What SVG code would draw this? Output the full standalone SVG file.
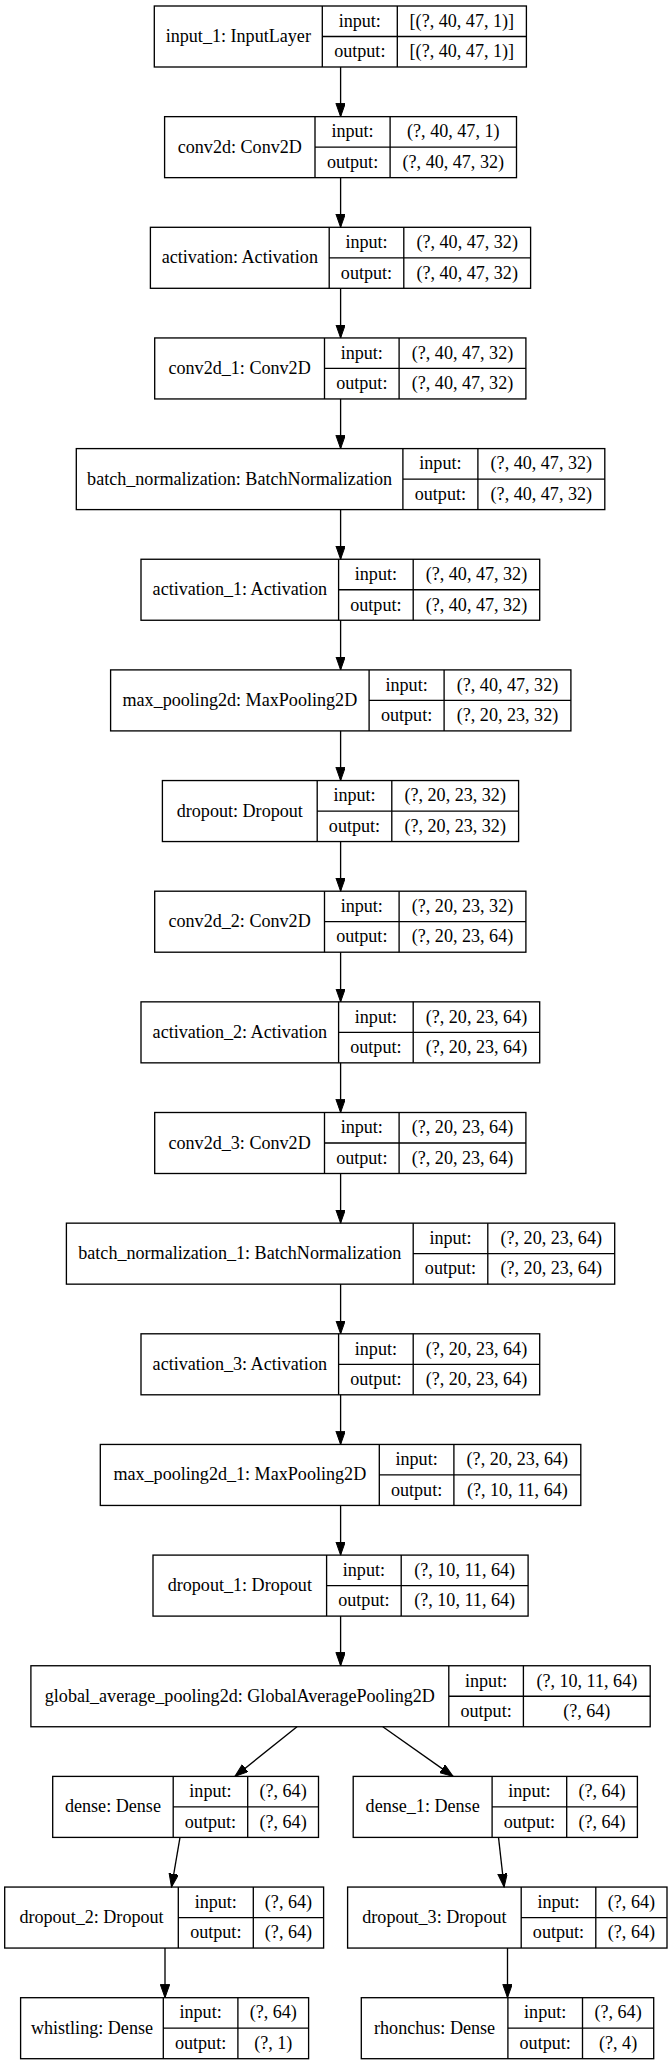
<svg xmlns="http://www.w3.org/2000/svg" width="672" height="2065" viewBox="0 0 672 2065">
<style>
.b{fill:none;stroke:#000;stroke-width:1.33}
.t{font-family:"Liberation Serif","Times New Roman",serif;font-size:18.1px;fill:#000;text-anchor:middle}
.e{fill:none;stroke:#000;stroke-width:1.33}
</style>
<defs>
<marker id="ah" markerUnits="userSpaceOnUse" markerWidth="14" markerHeight="10" refX="13.3" refY="4.7" orient="auto" viewBox="0 0 14 10">
<path d="M0,0 L13.3,4.7 L0,9.4 z" fill="#000" stroke="#000" stroke-width="1"/>
</marker>
</defs>
<rect x="0" y="0" width="672" height="2065" fill="#fff"/>

<g id="input_1">
<rect class="b" x="154.3" y="6" width="372.1" height="61"/>
<path class="b" d="M322.3,6V67M397.3,6V67M322.3,36.5H526.4"/>
<text class="t" x="238.3" y="42">input_1: InputLayer</text>
<text class="t" x="359.8" y="26.75">input:</text>
<text class="t" x="359.8" y="57.25">output:</text>
<text class="t" x="461.85" y="26.75">[(?, 40, 47, 1)]</text>
<text class="t" x="461.85" y="57.25">[(?, 40, 47, 1)]</text>
</g>

<g id="conv2d">
<rect class="b" x="164.6" y="116.65" width="351.9" height="61"/>
<path class="b" d="M315,116.65V177.65M390.1,116.65V177.65M315,147.15H516.5"/>
<text class="t" x="239.8" y="152.65">conv2d: Conv2D</text>
<text class="t" x="352.55" y="137.4">input:</text>
<text class="t" x="352.55" y="167.9">output:</text>
<text class="t" x="453.3" y="137.4">(?, 40, 47, 1)</text>
<text class="t" x="453.3" y="167.9">(?, 40, 47, 32)</text>
</g>

<g id="activation">
<rect class="b" x="150.4" y="227.3" width="380.2" height="61"/>
<path class="b" d="M329.2,227.3V288.3M403.8,227.3V288.3M329.2,257.8H530.6"/>
<text class="t" x="239.8" y="263.3">activation: Activation</text>
<text class="t" x="366.5" y="248.05">input:</text>
<text class="t" x="366.5" y="278.55">output:</text>
<text class="t" x="467.2" y="248.05">(?, 40, 47, 32)</text>
<text class="t" x="467.2" y="278.55">(?, 40, 47, 32)</text>
</g>

<g id="conv2d_1">
<rect class="b" x="154.7" y="337.95" width="371.2" height="61"/>
<path class="b" d="M324.5,337.95V398.95M399.1,337.95V398.95M324.5,368.45H525.9"/>
<text class="t" x="239.6" y="373.95">conv2d_1: Conv2D</text>
<text class="t" x="361.8" y="358.7">input:</text>
<text class="t" x="361.8" y="389.2">output:</text>
<text class="t" x="462.5" y="358.7">(?, 40, 47, 32)</text>
<text class="t" x="462.5" y="389.2">(?, 40, 47, 32)</text>
</g>

<g id="batch_normalization">
<rect class="b" x="76.3" y="448.6" width="528.5" height="61"/>
<path class="b" d="M402.9,448.6V509.6M477.9,448.6V509.6M402.9,479.1H604.8"/>
<text class="t" x="239.6" y="484.6">batch_normalization: BatchNormalization</text>
<text class="t" x="440.4" y="469.35">input:</text>
<text class="t" x="440.4" y="499.85">output:</text>
<text class="t" x="541.35" y="469.35">(?, 40, 47, 32)</text>
<text class="t" x="541.35" y="499.85">(?, 40, 47, 32)</text>
</g>

<g id="activation_1">
<rect class="b" x="141" y="559.25" width="398.7" height="61"/>
<path class="b" d="M338.6,559.25V620.25M413.2,559.25V620.25M338.6,589.75H539.7"/>
<text class="t" x="239.8" y="595.25">activation_1: Activation</text>
<text class="t" x="375.9" y="580">input:</text>
<text class="t" x="375.9" y="610.5">output:</text>
<text class="t" x="476.45" y="580">(?, 40, 47, 32)</text>
<text class="t" x="476.45" y="610.5">(?, 40, 47, 32)</text>
</g>

<g id="max_pooling2d">
<rect class="b" x="110.6" y="669.9" width="460.3" height="61"/>
<path class="b" d="M369.1,669.9V730.9M444.1,669.9V730.9M369.1,700.4H570.9"/>
<text class="t" x="239.85" y="705.9">max_pooling2d: MaxPooling2D</text>
<text class="t" x="406.6" y="690.65">input:</text>
<text class="t" x="406.6" y="721.15">output:</text>
<text class="t" x="507.5" y="690.65">(?, 40, 47, 32)</text>
<text class="t" x="507.5" y="721.15">(?, 20, 23, 32)</text>
</g>

<g id="dropout">
<rect class="b" x="162.4" y="780.55" width="356.2" height="61"/>
<path class="b" d="M317.2,780.55V841.55M391.8,780.55V841.55M317.2,811.05H518.6"/>
<text class="t" x="239.8" y="816.55">dropout: Dropout</text>
<text class="t" x="354.5" y="801.3">input:</text>
<text class="t" x="354.5" y="831.8">output:</text>
<text class="t" x="455.2" y="801.3">(?, 20, 23, 32)</text>
<text class="t" x="455.2" y="831.8">(?, 20, 23, 32)</text>
</g>

<g id="conv2d_2">
<rect class="b" x="154.7" y="891.2" width="371.2" height="61"/>
<path class="b" d="M324.5,891.2V952.2M399.1,891.2V952.2M324.5,921.7H525.9"/>
<text class="t" x="239.6" y="927.2">conv2d_2: Conv2D</text>
<text class="t" x="361.8" y="911.95">input:</text>
<text class="t" x="361.8" y="942.45">output:</text>
<text class="t" x="462.5" y="911.95">(?, 20, 23, 32)</text>
<text class="t" x="462.5" y="942.45">(?, 20, 23, 64)</text>
</g>

<g id="activation_2">
<rect class="b" x="141" y="1001.85" width="398.7" height="61"/>
<path class="b" d="M338.6,1001.85V1062.85M413.2,1001.85V1062.85M338.6,1032.35H539.7"/>
<text class="t" x="239.8" y="1037.85">activation_2: Activation</text>
<text class="t" x="375.9" y="1022.6">input:</text>
<text class="t" x="375.9" y="1053.1">output:</text>
<text class="t" x="476.45" y="1022.6">(?, 20, 23, 64)</text>
<text class="t" x="476.45" y="1053.1">(?, 20, 23, 64)</text>
</g>

<g id="conv2d_3">
<rect class="b" x="154.7" y="1112.5" width="371.2" height="61"/>
<path class="b" d="M324.5,1112.5V1173.5M399.1,1112.5V1173.5M324.5,1143H525.9"/>
<text class="t" x="239.6" y="1148.5">conv2d_3: Conv2D</text>
<text class="t" x="361.8" y="1133.25">input:</text>
<text class="t" x="361.8" y="1163.75">output:</text>
<text class="t" x="462.5" y="1133.25">(?, 20, 23, 64)</text>
<text class="t" x="462.5" y="1163.75">(?, 20, 23, 64)</text>
</g>

<g id="batch_normalization_1">
<rect class="b" x="66.4" y="1223.15" width="548.3" height="61"/>
<path class="b" d="M413.2,1223.15V1284.15M487.8,1223.15V1284.15M413.2,1253.65H614.7"/>
<text class="t" x="239.8" y="1259.15">batch_normalization_1: BatchNormalization</text>
<text class="t" x="450.5" y="1243.9">input:</text>
<text class="t" x="450.5" y="1274.4">output:</text>
<text class="t" x="551.25" y="1243.9">(?, 20, 23, 64)</text>
<text class="t" x="551.25" y="1274.4">(?, 20, 23, 64)</text>
</g>

<g id="activation_3">
<rect class="b" x="141" y="1333.8" width="398.7" height="61"/>
<path class="b" d="M338.6,1333.8V1394.8M413.2,1333.8V1394.8M338.6,1364.3H539.7"/>
<text class="t" x="239.8" y="1369.8">activation_3: Activation</text>
<text class="t" x="375.9" y="1354.55">input:</text>
<text class="t" x="375.9" y="1385.05">output:</text>
<text class="t" x="476.45" y="1354.55">(?, 20, 23, 64)</text>
<text class="t" x="476.45" y="1385.05">(?, 20, 23, 64)</text>
</g>

<g id="max_pooling2d_1">
<rect class="b" x="100.3" y="1444.45" width="480.5" height="61"/>
<path class="b" d="M379.3,1444.45V1505.45M453.9,1444.45V1505.45M379.3,1474.95H580.8"/>
<text class="t" x="239.8" y="1480.45">max_pooling2d_1: MaxPooling2D</text>
<text class="t" x="416.6" y="1465.2">input:</text>
<text class="t" x="416.6" y="1495.7">output:</text>
<text class="t" x="517.35" y="1465.2">(?, 20, 23, 64)</text>
<text class="t" x="517.35" y="1495.7">(?, 10, 11, 64)</text>
</g>

<g id="dropout_1">
<rect class="b" x="153" y="1555.1" width="375.1" height="61"/>
<path class="b" d="M326.6,1555.1V1616.1M401.2,1555.1V1616.1M326.6,1585.6H528.1"/>
<text class="t" x="239.8" y="1591.1">dropout_1: Dropout</text>
<text class="t" x="363.9" y="1575.85">input:</text>
<text class="t" x="363.9" y="1606.35">output:</text>
<text class="t" x="464.65" y="1575.85">(?, 10, 11, 64)</text>
<text class="t" x="464.65" y="1606.35">(?, 10, 11, 64)</text>
</g>

<g id="global_average_pooling2d">
<rect class="b" x="30.9" y="1665.75" width="619.3" height="61"/>
<path class="b" d="M448.8,1665.75V1726.75M523.4,1665.75V1726.75M448.8,1696.25H650.2"/>
<text class="t" x="239.85" y="1701.75">global_average_pooling2d: GlobalAveragePooling2D</text>
<text class="t" x="486.1" y="1686.5">input:</text>
<text class="t" x="486.1" y="1717">output:</text>
<text class="t" x="586.8" y="1686.5">(?, 10, 11, 64)</text>
<text class="t" x="586.8" y="1717">(?, 64)</text>
</g>

<g id="dense">
<rect class="b" x="52.7" y="1776.4" width="265.8" height="61"/>
<path class="b" d="M173.2,1776.4V1837.4M247.7,1776.4V1837.4M173.2,1806.9H318.5"/>
<text class="t" x="112.95" y="1812.4">dense: Dense</text>
<text class="t" x="210.45" y="1797.15">input:</text>
<text class="t" x="210.45" y="1827.65">output:</text>
<text class="t" x="283.1" y="1797.15">(?, 64)</text>
<text class="t" x="283.1" y="1827.65">(?, 64)</text>
</g>

<g id="dense_1">
<rect class="b" x="353.2" y="1776.4" width="284.2" height="61"/>
<path class="b" d="M492.1,1776.4V1837.4M566.7,1776.4V1837.4M492.1,1806.9H637.4"/>
<text class="t" x="422.65" y="1812.4">dense_1: Dense</text>
<text class="t" x="529.4" y="1797.15">input:</text>
<text class="t" x="529.4" y="1827.65">output:</text>
<text class="t" x="602.05" y="1797.15">(?, 64)</text>
<text class="t" x="602.05" y="1827.65">(?, 64)</text>
</g>

<g id="dropout_2">
<rect class="b" x="4.7" y="1887.05" width="318.9" height="61"/>
<path class="b" d="M178.3,1887.05V1948.05M253.3,1887.05V1948.05M178.3,1917.55H323.6"/>
<text class="t" x="91.5" y="1923.05">dropout_2: Dropout</text>
<text class="t" x="215.8" y="1907.8">input:</text>
<text class="t" x="215.8" y="1938.3">output:</text>
<text class="t" x="288.45" y="1907.8">(?, 64)</text>
<text class="t" x="288.45" y="1938.3">(?, 64)</text>
</g>

<g id="dropout_3">
<rect class="b" x="347.6" y="1887.05" width="319.4" height="61"/>
<path class="b" d="M521.2,1887.05V1948.05M595.8,1887.05V1948.05M521.2,1917.55H667"/>
<text class="t" x="434.4" y="1923.05">dropout_3: Dropout</text>
<text class="t" x="558.5" y="1907.8">input:</text>
<text class="t" x="558.5" y="1938.3">output:</text>
<text class="t" x="631.4" y="1907.8">(?, 64)</text>
<text class="t" x="631.4" y="1938.3">(?, 64)</text>
</g>

<g id="whistling">
<rect class="b" x="20.6" y="1997.7" width="288" height="61"/>
<path class="b" d="M163.3,1997.7V2058.7M237.9,1997.7V2058.7M163.3,2028.2H308.6"/>
<text class="t" x="91.95" y="2033.7">whistling: Dense</text>
<text class="t" x="200.6" y="2018.45">input:</text>
<text class="t" x="200.6" y="2048.95">output:</text>
<text class="t" x="273.25" y="2018.45">(?, 64)</text>
<text class="t" x="273.25" y="2048.95">(?, 1)</text>
</g>

<g id="rhonchus">
<rect class="b" x="361.3" y="1997.7" width="292.4" height="61"/>
<path class="b" d="M507.9,1997.7V2058.7M582.5,1997.7V2058.7M507.9,2028.2H653.7"/>
<text class="t" x="434.6" y="2033.7">rhonchus: Dense</text>
<text class="t" x="545.2" y="2018.45">input:</text>
<text class="t" x="545.2" y="2048.95">output:</text>
<text class="t" x="618.1" y="2018.45">(?, 64)</text>
<text class="t" x="618.1" y="2048.95">(?, 4)</text>
</g>

<g id="connectors">
<path class="e" marker-end="url(#ah)" d="M340.6,67V116.65"/>
<path class="e" marker-end="url(#ah)" d="M340.6,177.65V227.3"/>
<path class="e" marker-end="url(#ah)" d="M340.6,288.3V337.95"/>
<path class="e" marker-end="url(#ah)" d="M340.6,398.95V448.6"/>
<path class="e" marker-end="url(#ah)" d="M340.6,509.6V559.25"/>
<path class="e" marker-end="url(#ah)" d="M340.6,620.25V669.9"/>
<path class="e" marker-end="url(#ah)" d="M340.6,730.9V780.55"/>
<path class="e" marker-end="url(#ah)" d="M340.6,841.55V891.2"/>
<path class="e" marker-end="url(#ah)" d="M340.6,952.2V1001.85"/>
<path class="e" marker-end="url(#ah)" d="M340.6,1062.85V1112.5"/>
<path class="e" marker-end="url(#ah)" d="M340.6,1173.5V1223.15"/>
<path class="e" marker-end="url(#ah)" d="M340.6,1284.15V1333.8"/>
<path class="e" marker-end="url(#ah)" d="M340.6,1394.8V1444.45"/>
<path class="e" marker-end="url(#ah)" d="M340.6,1505.45V1555.1"/>
<path class="e" marker-end="url(#ah)" d="M340.6,1616.1V1665.75"/>
<path class="e" marker-end="url(#ah)" d="M297,1726.75L234.9,1776.4"/>
<path class="e" marker-end="url(#ah)" d="M382.8,1726.75L453.1,1776.4"/>
<path class="e" marker-end="url(#ah)" d="M180,1837.4L171.5,1887.05"/>
<path class="e" marker-end="url(#ah)" d="M498.5,1837.4L504.1,1887.05"/>
<path class="e" marker-end="url(#ah)" d="M165,1948.05V1997.7"/>
<path class="e" marker-end="url(#ah)" d="M507.5,1948.05V1997.7"/>
</g>
</svg>
